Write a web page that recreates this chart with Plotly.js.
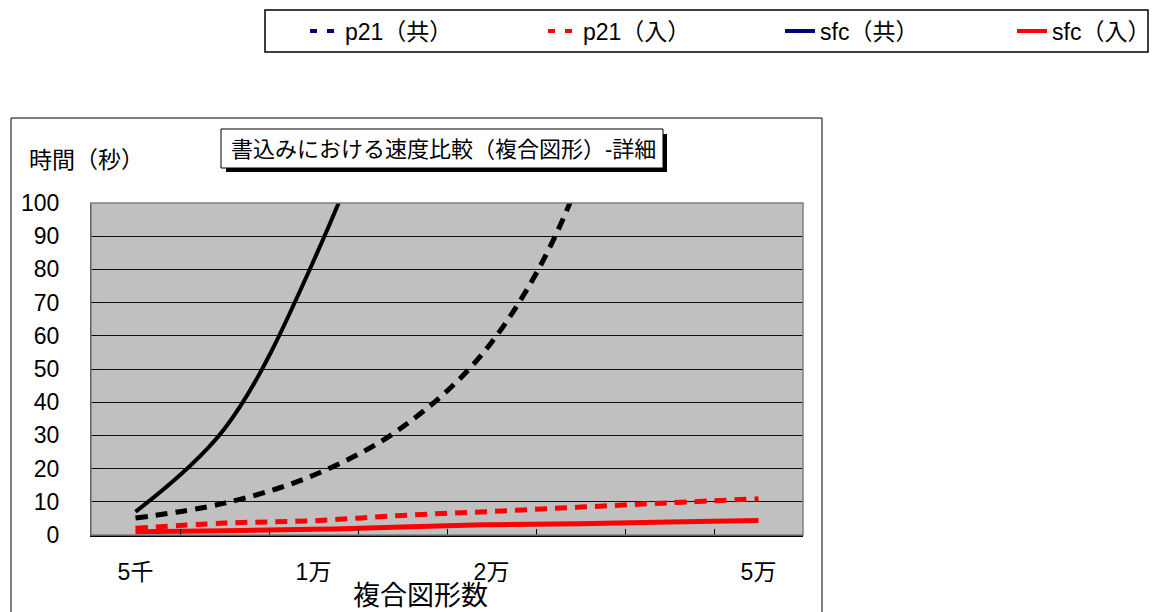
<!DOCTYPE html>
<html>
<head>
<meta charset="utf-8">
<script src="https://cdn.plot.ly/plotly-3.0.1.min.js"></script>
<style>
  html, body { margin: 0; padding: 0; background: #fff; }
  #chart { width: 1154px; height: 612px; }
</style>
</head>
<body>
<div id="chart"></div>
<script>
// 複合図形数 (categories) and the labels shown under the axis
const categories = ['5千', '7.5千', '1万', '1.5万', '2万', '3万', '4万', '5万'];
const tickLabels = ['5千', '', '1万', '', '2万', '', '', '5万'];

// 書込み時間 (秒)
const p21Kyo = [5.1, 9.6, 18, 32.5, 58, 108, 220, 400];
const p21Nyu = [2.0, 3.6, 4.3, 5.9, 7.1, 8.4, 9.7, 10.9];
const sfcKyo = [7.0, 32, 82.5, 155, 290, 560, 950, 1400];
const sfcNyu = [1.0, 1.3, 1.7, 2.4, 3.1, 3.4, 3.9, 4.4];

const seriesNames = ['p21（共）', 'p21（入）', 'sfc（共）', 'sfc（入）'];

const FONT = 'Liberation Sans, Arial, "Noto Sans CJK JP", sans-serif';

// plot area in pixels
const W = 1154, H = 612;
const M = { l: 91, r: 351, t: 203, b: 77, autoexpand: false };
const PW = W - M.l - M.r, PH = H - M.t - M.b;
const px = x => (x - M.l) / PW;
const py = y => (H - M.b - y) / PH;

const dataLine = (y, color, width, dash) => ({
  x: categories, y: y, type: 'scatter', mode: 'lines',
  line: { color: color, width: width, dash: dash, shape: 'spline', smoothing: 1 },
  showlegend: false, hoverinfo: 'x+y'
});

const legendKey = (name, color, dash, legendId) => ({
  x: [null], y: [null], type: 'scatter', mode: 'lines', name: name,
  line: { color: color, width: 4, dash: dash },
  legend: legendId, showlegend: true, hoverinfo: 'skip'
});

const traces = [
  Object.assign(dataLine(p21Kyo, '#000000', 5, '12px,8px'), { name: seriesNames[0] }),
  Object.assign(dataLine(p21Nyu, '#ff0000', 5, '12px,8px'), { name: seriesNames[1] }),
  Object.assign(dataLine(sfcKyo, '#000000', 4, 'solid'), { name: seriesNames[2] }),
  Object.assign(dataLine(sfcNyu, '#ff0000', 5, 'solid'), { name: seriesNames[3] }),
  legendKey(seriesNames[0], '#000080', '7px,10px', 'legend'),
  legendKey(seriesNames[1], '#ff0000', '7px,10px', 'legend2'),
  legendKey(seriesNames[2], '#000080', 'solid', 'legend3'),
  legendKey(seriesNames[3], '#ff0000', 'solid', 'legend4')
];

const legendAt = xText => ({
  x: px(xText - 40), y: py(31), xanchor: 'left', yanchor: 'middle',
  orientation: 'h', bgcolor: 'rgba(0,0,0,0)', borderwidth: 0,
  font: { family: FONT, size: 23, color: '#000' }
});

const layout = {
  width: W, height: H,
  margin: M,
  paper_bgcolor: '#ffffff',
  plot_bgcolor: '#c0c0c0',
  font: { family: FONT, size: 23, color: '#000' },
  xaxis: {
    type: 'category', categoryorder: 'array', categoryarray: categories,
    range: [-0.5, categories.length - 0.5],
    tickvals: categories, ticktext: tickLabels,
    tickson: 'boundaries', ticks: 'inside', ticklen: 6, tickcolor: '#000', tickwidth: 1,
    showgrid: false, zeroline: false,
    showline: true, linecolor: '#000', linewidth: 2,
    tickfont: { family: FONT, size: 23 }, ticklabelstandoff: 15,
    automargin: false, fixedrange: true
  },
  yaxis: {
    range: [0, 100], dtick: 10, tick0: 0,
    showgrid: true, gridcolor: '#111', gridwidth: 1,
    zeroline: false, showline: true, linecolor: '#000', linewidth: 1,
    ticks: 'inside', ticklen: 6, tickcolor: '#000',
    tickfont: { family: FONT, size: 23 }, ticklabelstandoff: 26,
    automargin: false, fixedrange: true
  },
  legend: legendAt(345),
  legend2: legendAt(583),
  legend3: legendAt(820),
  legend4: legendAt(1052),
  shapes: [
    // chart frame
    { type: 'rect', xref: 'paper', yref: 'paper', x0: px(11), x1: px(822), y0: py(620), y1: py(118),
      line: { color: '#000', width: 1 }, fillcolor: 'rgba(0,0,0,0)', layer: 'below' },
    // plot area border
    { type: 'rect', xref: 'paper', yref: 'paper', x0: 0, x1: 1, y0: 0, y1: 1,
      line: { color: '#808080', width: 1.5 }, fillcolor: 'rgba(0,0,0,0)', layer: 'above' },
    // legend frame
    { type: 'rect', xref: 'paper', yref: 'paper', x0: px(265), x1: px(1148), y0: py(52), y1: py(10),
      line: { color: '#000', width: 1.5 }, fillcolor: 'rgba(0,0,0,0)' },
    // title box shadow and box
    { type: 'rect', xref: 'paper', yref: 'paper', x0: px(226), x1: px(667), y0: py(172), y1: py(134),
      line: { width: 0 }, fillcolor: '#000' },
    { type: 'rect', xref: 'paper', yref: 'paper', x0: px(221), x1: px(663), y0: py(168), y1: py(129),
      line: { color: '#000', width: 1 }, fillcolor: '#fff' }
  ],
  annotations: [
    { text: '書込みにおける速度比較（複合図形）-詳細', xref: 'paper', yref: 'paper',
      x: px(443), y: py(149), xanchor: 'center', yanchor: 'middle', showarrow: false,
      font: { family: FONT, size: 22 } },
    { text: '時間（秒）', xref: 'paper', yref: 'paper',
      x: px(27), y: py(160), xanchor: 'left', yanchor: 'middle', showarrow: false,
      font: { family: FONT, size: 23 } },
    { text: '複合図形数', xref: 'paper', yref: 'paper',
      x: px(420), y: py(596), xanchor: 'center', yanchor: 'middle', showarrow: false,
      font: { family: FONT, size: 27 } }
  ]
};

Plotly.newPlot('chart', traces, layout, { displayModeBar: false, staticPlot: true });
</script>
</body>
</html>
